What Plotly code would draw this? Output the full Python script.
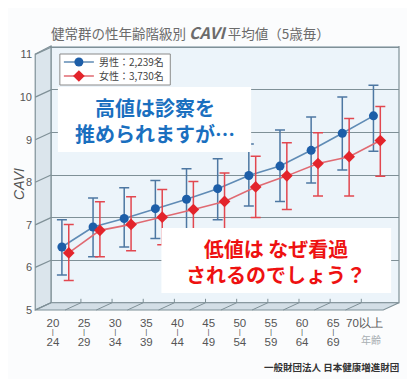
import plotly.graph_objects as go

# ---------------- data ----------------
age_top = ["20", "25", "30", "35", "40", "45", "50", "55", "60", "65", "70以上"]
age_bottom = ["24", "29", "34", "39", "44", "49", "54", "59", "64", "69", ""]
male_mean = [6.48, 6.95, 7.15, 7.38, 7.60, 7.85, 8.16, 8.38, 8.75, 9.15, 9.56]
male_upper = [7.12, 7.63, 7.87, 8.04, 8.32, 8.55, 8.90, 9.23, 9.53, 10.00, 10.28]
male_lower = [5.82, 6.25, 6.48, 6.68, 6.88, 7.12, 7.44, 7.55, 7.98, 8.29, 8.73]
female_mean = [6.34, 6.87, 7.01, 7.18, 7.36, 7.55, 7.89, 8.15, 8.44, 8.60, 8.98]
female_upper = [7.01, 7.54, 7.66, 7.83, 8.02, 8.22, 8.61, 8.93, 9.16, 9.50, 9.78]
female_lower = [5.69, 6.25, 6.39, 6.53, 6.70, 6.88, 7.17, 7.36, 7.68, 7.68, 8.14]
y_ticks = [5, 6, 7, 8, 9, 10, 11]
male_name = "男性：2,239名"
female_name = "女性：3,730名"

FONT = "Noto Sans CJK JP"
# the page body has an 8px margin, so the figure starts at (8, 8)
OX, OY = 8, 8
PAGE_W, PAGE_H = 415, 379
W, H = PAGE_W - OX, PAGE_H - OY
PL, PR, PT, PB = 46, 399, 46, 310          # plot area in page pixels
ML, MR, MT, MB = PL - OX, PAGE_W - PR, PT - OY, PAGE_H - PB
PW, PH = PR - PL, PB - PT
X_RANGE = [-0.46, 10.71]
Y_RANGE = [5, 11.2]
DEPTH_Y = 0.17    # back-wall offset in value units
DEPTH_PX = 16     # horizontal depth of the 3D box in px
LABEL_SHIFT = 0.4  # x-labels sit in front of the category

n = len(age_top)
idx = list(range(n))
off = 0.11
xm = [i - off for i in idx]
xf = [i + off for i in idx]


def px_x(p):
    return (p - PL) / PW


def px_y(p):
    return (PB - p) / PH


fig = go.Figure()

fig.add_trace(go.Scatter(
    x=xm, y=male_mean, name=male_name, mode="lines+markers", legend="legend",
    line=dict(color="#5f8bb5", width=1.6),
    marker=dict(color="#1d5ea8", size=9),
    error_y=dict(type="data", symmetric=False,
                 array=[u - m for u, m in zip(male_upper, male_mean)],
                 arrayminus=[m - l for m, l in zip(male_mean, male_lower)],
                 color="#4d77a2", thickness=1.5, width=5),
))
fig.add_trace(go.Scatter(
    x=xf, y=female_mean, name=female_name, mode="lines+markers", legend="legend2",
    line=dict(color="#e06a72", width=1.6),
    marker=dict(color="#e3242b", size=9, symbol="diamond"),
    error_y=dict(type="data", symmetric=False,
                 array=[u - m for u, m in zip(female_upper, female_mean)],
                 arrayminus=[m - l for m, l in zip(female_mean, female_lower)],
                 color="#e2474f", thickness=1.5, width=5),
))

shapes = []
GRID = "#7f9097"
# back wall
shapes.append(dict(type="rect", xref="paper", yref="y2", x0=0, x1=1,
                   y0=5, y1=Y_RANGE[1] - DEPTH_Y, fillcolor="#ecf4fa",
                   line=dict(color=GRID, width=1.2), layer="below"))
fx = -DEPTH_PX / PW
fb = DEPTH_Y / (Y_RANGE[1] - Y_RANGE[0])
# left wall
shapes.append(dict(type="path", xref="paper", yref="paper",
                   path=f"M {fx},0 L 0,{fb} L 0,1 L {fx},{px_y(54)} Z",
                   fillcolor="#dbe5ec", line=dict(color=GRID, width=1.2), layer="below"))
# floor
shapes.append(dict(type="path", xref="paper", yref="paper",
                   path=f"M {fx},0 L 0,{fb} L 1,{fb} L {1 + fx},0 Z",
                   fillcolor="#d3dee6", line=dict(color=GRID, width=1.2), layer="below"))
# diagonal tick lines on the left wall
for v in y_ticks:
    shapes.append(dict(type="line", xref="paper", yref="y", x0=fx, x1=0,
                       y0=v, y1=v + DEPTH_Y, line=dict(color=GRID, width=1.2)))
# floor ticks between categories
dx = DEPTH_PX / (PW / (X_RANGE[1] - X_RANGE[0]))
for i in range(n - 1):
    b = i + 0.5
    shapes.append(dict(type="line", xref="x", yref="paper", x0=b - dx, x1=b,
                       y0=0, y1=fb, line=dict(color=GRID, width=1)))
    shapes.append(dict(type="line", xref="x", yref="paper", x0=b, x1=b,
                       y0=fb, y1=fb + 0.015, line=dict(color=GRID, width=1)))
# legend frame
shapes.append(dict(type="rect", xref="paper", yref="paper",
                   x0=px_x(55), x1=px_x(167), y0=px_y(85), y1=px_y(54),
                   fillcolor="white", line=dict(color="#8a8a8a", width=1), layer="above"))
# white message boxes
shapes.append(dict(type="rect", xref="paper", yref="paper",
                   x0=px_x(53), x1=px_x(249), y0=px_y(152), y1=px_y(87),
                   fillcolor="white", line=dict(width=0), layer="above"))
shapes.append(dict(type="rect", xref="paper", yref="paper",
                   x0=px_x(158), x1=px_x(391), y0=px_y(293), y1=px_y(228),
                   fillcolor="white", line=dict(width=0), layer="above"))

annotations = [
    dict(text="健常群の性年齢階級別 <b><i><span style='font-size:16px'>CAVI</span></i></b> 平均値（5歳毎）",
         xref="paper", yref="paper", x=px_x(44), y=px_y(32), xanchor="left", yanchor="middle",
         showarrow=False, font=dict(family=FONT, size=13.5, color="#6b6b6b")),
    dict(text="<i>CAVI</i>", xref="paper", yref="paper", x=px_x(13.5), y=px_y(184),
         xanchor="center", yanchor="middle", textangle=-90, showarrow=False,
         font=dict(family="Liberation Sans", size=14, color="#555")),
    dict(text="高値は診察を<br>推められますが…", xref="paper", yref="paper",
         x=px_x(151), y=px_y(120), xanchor="center", yanchor="middle", showarrow=False,
         font=dict(family=FONT, size=20, color="#1a6fbf", weight="bold"), align="center"),
    dict(text="低値は なぜ看過<br>されるのでしょう？", xref="paper", yref="paper",
         x=px_x(274), y=px_y(261), xanchor="center", yanchor="middle", showarrow=False,
         font=dict(family=FONT, size=20, color="#ee1111", weight="bold"), align="center"),
    dict(text="年齢", xref="paper", yref="paper", x=px_x(371), y=px_y(339),
         xanchor="center", yanchor="middle", showarrow=False,
         font=dict(family=FONT, size=10, color="#a8aeb3")),
    dict(text="<b>一般財団法人 日本健康増進財団</b>", xref="paper", yref="paper",
         x=px_x(401), y=px_y(367), xanchor="right", yanchor="middle", showarrow=False,
         font=dict(family=FONT, size=9.5, color="#333")),
]

lab_range = [X_RANGE[0] + LABEL_SHIFT, X_RANGE[1] + LABEL_SHIFT]
common_x = dict(range=lab_range, showgrid=False, zeroline=False, showline=False,
                tickmode="array", tickvals=idx, ticks="", overlaying="x", anchor="y")
leg_common = dict(xanchor="left", yanchor="middle", bgcolor="rgba(0,0,0,0)",
                  borderwidth=0, font=dict(family=FONT, size=10, color="#444"),
                  itemwidth=30)

fig.update_layout(
    width=W, height=H,
    margin=dict(l=ML, r=MR, t=MT, b=MB),
    paper_bgcolor="#fbfcfd", plot_bgcolor="rgba(0,0,0,0)",
    font=dict(family=FONT, color="#555"),
    shapes=shapes, annotations=annotations,
    showlegend=True,
    legend=dict(leg_common, x=px_x(54), y=px_y(62)),
    legend2=dict(leg_common, x=px_x(54), y=px_y(76)),
    xaxis=dict(range=X_RANGE, showgrid=False, zeroline=False, showline=False,
               showticklabels=False, ticks=""),
    xaxis2=dict(common_x, ticktext=age_top, ticklabelstandoff=4,
                tickfont=dict(family="Liberation Sans", size=11.5, color="#555")),
    xaxis3=dict(common_x, ticktext=["|" if b else "" for b in age_bottom], ticklabelstandoff=15,
                tickfont=dict(family="Liberation Sans", size=8, color="#555")),
    xaxis4=dict(common_x, ticktext=age_bottom, ticklabelstandoff=23,
                tickfont=dict(family="Liberation Sans", size=11.5, color="#555")),
    yaxis=dict(range=Y_RANGE, showgrid=False, zeroline=False, showline=False,
               tickmode="array", tickvals=y_ticks, ticks="", ticklabelstandoff=18,
               tickfont=dict(family="Liberation Sans", size=11, color="#555")),
    yaxis2=dict(range=[Y_RANGE[0] - DEPTH_Y, Y_RANGE[1] - DEPTH_Y], overlaying="y",
                showgrid=True, gridcolor=GRID, gridwidth=1.2, zeroline=False,
                tickmode="array", tickvals=y_ticks[1:], showticklabels=False, ticks=""),
)

# invisible traces to instantiate overlay axes
for ax in ["x2", "x3", "x4"]:
    fig.add_trace(go.Scatter(x=[None], y=[None], xaxis=ax, yaxis="y",
                             showlegend=False, hoverinfo="skip"))
fig.add_trace(go.Scatter(x=[None], y=[None], xaxis="x", yaxis="y2",
                         showlegend=False, hoverinfo="skip"))

fig.write_html("out.html")
